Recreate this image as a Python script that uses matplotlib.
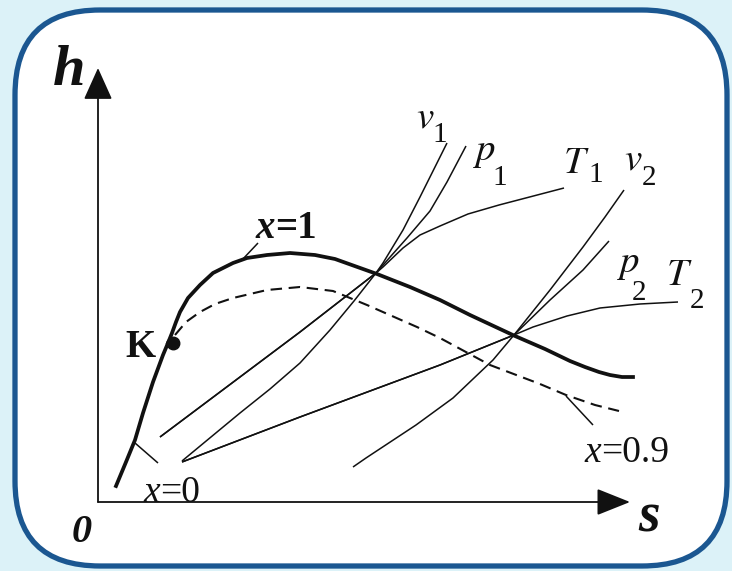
import numpy as np
import matplotlib.pyplot as plt
from matplotlib.patches import FancyBboxPatch

plt.rcParams['mathtext.fontset'] = 'stix'
serif = 'Liberation Serif'

# saturation lines: x=0 (liquid) up to K, x=1 (vapour) beyond K
x0_s = [0.18, 0.28, 0.37, 0.45, 0.55, 0.65, 0.70]
x0_h = [0.16, 0.40, 0.62, 0.89, 1.20, 1.47, 1.59]
x1_s = [0.70, 0.74, 0.78, 0.82, 0.90, 1.02, 1.15, 1.35, 1.49, 1.69, 1.92,
        2.17, 2.37, 2.79, 3.12, 3.42, 3.72, 4.17, 4.47, 4.72, 4.87, 5.01,
        5.12, 5.24, 5.35]
x1_h = [1.59, 1.69, 1.80, 1.90, 2.04, 2.17, 2.29, 2.39, 2.44, 2.47, 2.49,
        2.47, 2.43, 2.28, 2.15, 2.02, 1.87, 1.66, 1.53, 1.41, 1.35, 1.30,
        1.27, 1.25, 1.25]

# dryness x=0.9
x09_s = [0.77, 0.88, 1.02, 1.17, 1.35, 1.69, 2.02, 2.35, 2.69, 3.19, 3.42,
         3.92, 4.42, 4.68, 4.97, 5.21]
x09_h = [1.67, 1.80, 1.90, 1.98, 2.04, 2.12, 2.15, 2.11, 1.97, 1.75, 1.64,
         1.37, 1.18, 1.07, 0.97, 0.91]

# critical point
K = (0.75, 1.59)

# isochores, isobars, isotherms
v1_s = [0.84, 1.42, 1.72, 2.02, 2.32, 2.56, 2.78, 2.85, 3.05, 3.22, 3.49]
v1_h = [0.41, 0.89, 1.13, 1.39, 1.72, 2.01, 2.29, 2.39, 2.72, 3.05, 3.59]
p1_s = [0.62, 2.02, 2.78, 2.93, 3.09, 3.32, 3.49, 3.68]
p1_h = [0.65, 1.70, 2.29, 2.46, 2.64, 2.91, 3.20, 3.56]
T1_s = [0.62, 2.02, 2.78, 2.85, 3.05, 3.22, 3.42, 3.70, 4.01, 4.66]
T1_h = [0.65, 1.70, 2.29, 2.35, 2.54, 2.67, 2.76, 2.88, 2.97, 3.14]

v2_s = [2.55, 2.68, 3.18, 3.55, 3.95, 4.16, 4.52, 4.85, 5.07, 5.26]
v2_h = [0.35, 0.44, 0.77, 1.04, 1.42, 1.67, 2.12, 2.55, 2.85, 3.12]
p2_s = [0.84, 2.02, 3.42, 4.16, 4.52, 4.85, 5.11]
p2_h = [0.40, 0.85, 1.37, 1.67, 2.02, 2.32, 2.61]
T2_s = [0.84, 2.02, 3.42, 4.16, 4.35, 4.69, 5.02, 5.42, 5.80]
T2_h = [0.40, 0.85, 1.37, 1.67, 1.75, 1.86, 1.94, 1.98, 2.00]

# isoline names: letter, subscript, letter position, subscript position
iso_labels = [('v', '1', (3.18, 3.74), (3.34, 3.60)),
              ('p', '1', (3.75, 3.42), (3.94, 3.17)),
              ('T', '1', (4.65, 3.29), (4.90, 3.20)),
              ('v', '2', (5.26, 3.32), (5.44, 3.17)),
              ('p', '2', (5.19, 2.30), (5.34, 2.02)),
              ('T', '2', (5.68, 2.17), (5.92, 1.94))]

fig = plt.figure(figsize=(7.32, 5.71), dpi=100)
fig.patch.set_facecolor('#dcf2f8')
ax = fig.add_axes([0, 0, 1, 1])
ax.set_xlim(-0.98, 6.34)
ax.set_ylim(-0.69, 5.02)
ax.axis('off')

frame = FancyBboxPatch((-0.83, -0.64), 7.12, 5.56,
                       boxstyle='round,pad=0,rounding_size=0.85',
                       facecolor='white', edgecolor='#1b5791', linewidth=3.8)
ax.add_patch(frame)

ink = '#111111'
# axes with arrows
ax.annotate('', xy=(0, 4.34), xytext=(0, 0),
            arrowprops=dict(arrowstyle='-|>,head_length=1.0,head_width=0.45',
                            mutation_scale=20, color=ink, lw=1.3,
                            shrinkA=0, shrinkB=0))
ax.annotate('', xy=(5.32, 0), xytext=(0, 0),
            arrowprops=dict(arrowstyle='-|>,head_length=1.05,head_width=0.42',
                            mutation_scale=20, color=ink, lw=1.3,
                            shrinkA=0, shrinkB=0))

thin = dict(color=ink, lw=1.1, solid_capstyle='butt', solid_joinstyle='round')
for s, h in [(v1_s, v1_h), (p1_s, p1_h), (T1_s, T1_h),
             (v2_s, v2_h), (p2_s, p2_h), (T2_s, T2_h)]:
    ax.plot(s, h, **thin)

ax.plot(x0_s, x0_h, color=ink, lw=2.7, solid_joinstyle='round')
ax.plot(x1_s, x1_h, color=ink, lw=2.7, solid_joinstyle='round')
ax.plot(x09_s, x09_h, color=ink, lw=1.5, dashes=(5.5, 3.2))
ax.plot(*K, 'o', color=ink, ms=9)

# leader lines
ax.plot([1.44, 1.60], [2.42, 2.59], **thin)
ax.plot([0.37, 0.60], [0.59, 0.39], **thin)
ax.plot([4.68, 4.95], [1.06, 0.77], **thin)

# labels
ax.text(-0.29, 4.17, 'h', fontsize=42, family=serif, weight='bold',
        style='italic', ha='center', va='baseline', color=ink)
ax.text(-0.16, -0.40, '0', fontsize=29, family=serif, weight='bold',
        style='italic', ha='center', va='baseline', color=ink)
ax.text(5.51, -0.30, 's', fontsize=40, family=serif, weight='bold',
        style='italic', ha='center', va='baseline', color=ink)
ax.text(0.58, 1.45, 'K', fontsize=28, family=serif, weight='bold',
        ha='right', va='baseline', color=ink)

ax.text(1.77, 2.64, 'x', fontsize=28, family=serif, weight='bold',
        style='italic', ha='right', va='baseline', color=ink)
ax.text(1.77, 2.64, '=1', fontsize=28, family=serif, weight='bold',
        ha='left', va='baseline', color=ink)
ax.text(0.62, 0.0, 'x', fontsize=27, family=serif, style='italic',
        ha='right', va='baseline', color=ink)
ax.text(0.62, 0.0, '=0', fontsize=27, family=serif,
        ha='left', va='baseline', color=ink)
ax.text(5.03, 0.40, 'x', fontsize=27, family=serif, style='italic',
        ha='right', va='baseline', color=ink)
ax.text(5.03, 0.40, '=0.9', fontsize=27, family=serif,
        ha='left', va='baseline', color=ink)

for letter, sub, (ls, lh), (ss, sh) in iso_labels:
    ax.text(ls, lh, f'${letter}$', fontsize=28, ha='left', va='baseline',
            color=ink)
    ax.text(ss, sh, sub, fontsize=21, family=serif, ha='left',
            va='baseline', color=ink)

fig.savefig('out.png', dpi=100, facecolor=fig.get_facecolor())
